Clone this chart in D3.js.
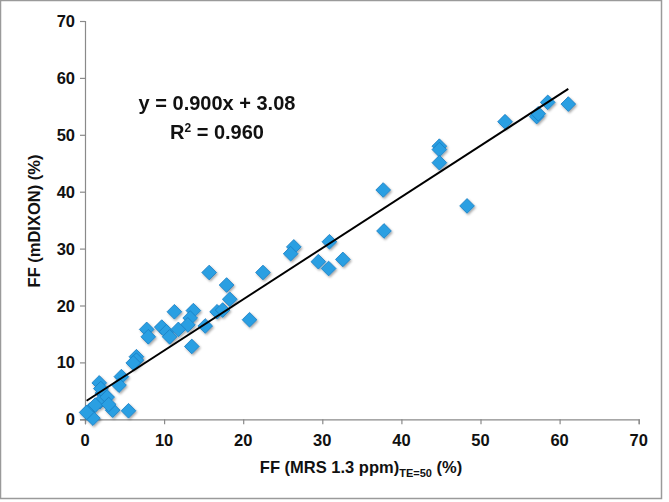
<!DOCTYPE html>
<html>
<head>
<meta charset="utf-8">
<script src="https://cdn.jsdelivr.net/npm/d3@7"></script>
<style>
	body { margin: 0; background: #fff; }
	svg { display: block; font-family: "Liberation Sans", Arial, Helvetica, sans-serif; }
	.tickLabel { font-size: 16.5px; font-weight: bold; fill: #111; }
	.axisTitle { font-size: 16.5px; font-weight: bold; fill: #111; }
	.eqText { font-size: 20px; font-weight: bold; fill: #111; }
</style>
</head>
<body>
<svg id="chart" width="669" height="502"></svg>
<script>
var WIDTH = 669;
var HEIGHT = 502;

// MRS 1.3 ppm fat fraction (x) vs mDIXON fat fraction (y), in %
var MRS_FF = [
	44.8, 44.8, 44.8, 53.1, 57.1, 57.3, 58.5, 61.1, 48.3,
	37.7, 37.8, 30.9, 26.4, 26.0, 29.5, 30.8, 32.6,
	15.7, 17.9, 18.3, 22.5, 20.8, 11.3, 13.7, 13.3, 13.0, 16.7, 17.4, 15.2,
	7.8, 8.0, 9.7, 10.3, 10.7, 11.8, 13.5, 6.5,
	6.5, 6.1, 4.6, 4.3, 1.8, 2.2, 2.5, 1.9, 2.8, 3.5, 5.5, 0.6, 1.0, 0.2, 1.3, 2.0, 3.0
];
var DIXON_FF = [
	48.0, 47.4, 45.1, 52.3, 53.2, 53.7, 55.7, 55.4, 37.5,
	40.3, 33.1, 31.2, 30.3, 29.1, 27.7, 26.5, 28.1,
	25.8, 23.6, 21.1, 25.8, 17.5, 18.9, 19.1, 17.8, 16.6, 18.9, 19.2, 16.4,
	15.8, 14.5, 16.2, 15.4, 14.5, 15.8, 12.8, 11.0,
	10.4, 9.9, 7.5, 6.0, 6.4, 4.6, 3.4, 3.1, 3.9, 1.6, 1.5, 1.6, 0.2, 1.2, 2.5, 5.4, 2.6
];

var X_TICKS = [0, 10, 20, 30, 40, 50, 60, 70];
var Y_TICKS = [0, 10, 20, 30, 40, 50, 60, 70];

var FIT_SLOPE = 0.900;
var FIT_INTERCEPT = 3.08;
var EQ_LINE = "y = 0.900x + 3.08";
var R2_VALUE = "0.960";

var X_TITLE = "FF (MRS 1.3 ppm)";
var X_TITLE_SUB = "TE=50";
var X_TITLE_END = " (%)";
var Y_TITLE = "FF (mDIXON) (%)";

var MARKER_FILL = "#2a9fe2";
var MARKER_EDGE = "#1b7fc4";
var AXIS_COLOR = "#8a8a8a";

var svg = d3.select("#chart");

// outer frame
svg.append("rect")
	.attr("x", 0.5)
	.attr("y", 0.5)
	.attr("width", 661)
	.attr("height", 498)
	.style("fill", "#fff")
	.style("stroke", "#9a9a9a")
	.style("stroke-width", 1.5);

var defs = svg.append("defs");
var shadow = defs.append("filter")
	.attr("id", "markerShadow")
	.attr("x", "-50%").attr("y", "-50%")
	.attr("width", "200%").attr("height", "200%");
shadow.append("feDropShadow")
	.attr("dx", 1.2)
	.attr("dy", 1.5)
	.attr("stdDeviation", 1.2)
	.attr("flood-color", "#000")
	.attr("flood-opacity", 0.35);

var x = d3.scaleLinear().domain([0, 70]).range([85, 638.7]);
var y = d3.scaleLinear().domain([0, 70]).range([419.3, 21]);

// axes
var xAxis = d3.axisBottom(x).tickValues(X_TICKS).tickSize(5).tickSizeOuter(5).tickFormat("");
var yAxis = d3.axisLeft(y).tickValues(Y_TICKS).tickSize(5).tickSizeOuter(5).tickFormat("");

var gx = svg.append("g")
	.attr("transform", "translate(0," + y(0) + ")")
	.call(xAxis);
var gy = svg.append("g")
	.attr("transform", "translate(" + x(0) + ",0)")
	.call(yAxis);

[gx, gy].forEach(function(g)
{
	g.selectAll("path, line").style("stroke", AXIS_COLOR).style("stroke-width", 1.2);
});

svg.append("g").selectAll("text")
	.data(X_TICKS)
	.enter().append("text")
	.attr("class", "tickLabel")
	.attr("x", function(d) { return x(d); })
	.attr("y", y(0) + 27)
	.attr("text-anchor", "middle")
	.text(function(d) { return d; });

svg.append("g").selectAll("text")
	.data(Y_TICKS)
	.enter().append("text")
	.attr("class", "tickLabel")
	.attr("x", 75)
	.attr("y", function(d) { return y(d) + 6; })
	.attr("text-anchor", "end")
	.text(function(d) { return d; });

// axis titles
var xt = svg.append("text")
	.attr("class", "axisTitle")
	.attr("x", 361)
	.attr("y", 473)
	.attr("text-anchor", "middle");
xt.append("tspan").text(X_TITLE);
xt.append("tspan").attr("dy", 4).style("font-size", "11px").text(X_TITLE_SUB);
xt.append("tspan").attr("dy", -4).text(X_TITLE_END);

svg.append("text")
	.attr("class", "axisTitle")
	.attr("transform", "translate(40,221) rotate(-90)")
	.attr("text-anchor", "middle")
	.text(Y_TITLE);

// points
var points = d3.range(MRS_FF.length).map(function(i)
{
	return { x: MRS_FF[i], y: DIXON_FF[i] };
});

var diamond = d3.symbol().type(d3.symbolSquare).size(108);

svg.append("g")
	.attr("filter", "url(#markerShadow)")
	.selectAll("path")
	.data(points)
	.enter().append("path")
	.attr("d", diamond)
	.attr("transform", function(d) { return "translate(" + x(d.x) + "," + y(d.y) + ") rotate(45)"; })
	.style("fill", MARKER_FILL)
	.style("stroke", MARKER_EDGE)
	.style("stroke-width", 0.8);

// linear fit across the data range
var xExtent = d3.extent(MRS_FF);
var fit = xExtent.map(function(v) { return { x: v, y: FIT_SLOPE * v + FIT_INTERCEPT }; });

svg.append("path")
	.datum(fit)
	.attr("d", d3.line().x(function(d) { return x(d.x); }).y(function(d) { return y(d.y); }))
	.style("fill", "none")
	.style("stroke", "#000")
	.style("stroke-width", 2);

// equation
svg.append("text")
	.attr("class", "eqText")
	.attr("x", 217)
	.attr("y", 110)
	.attr("text-anchor", "middle")
	.text(EQ_LINE);

var r2 = svg.append("text")
	.attr("class", "eqText")
	.attr("x", 217)
	.attr("y", 139)
	.attr("text-anchor", "middle");
r2.append("tspan").text("R");
r2.append("tspan").attr("dy", -7).style("font-size", "12px").text("2");
r2.append("tspan").attr("dy", 7).text(" = " + R2_VALUE);
</script>
</body>
</html>
